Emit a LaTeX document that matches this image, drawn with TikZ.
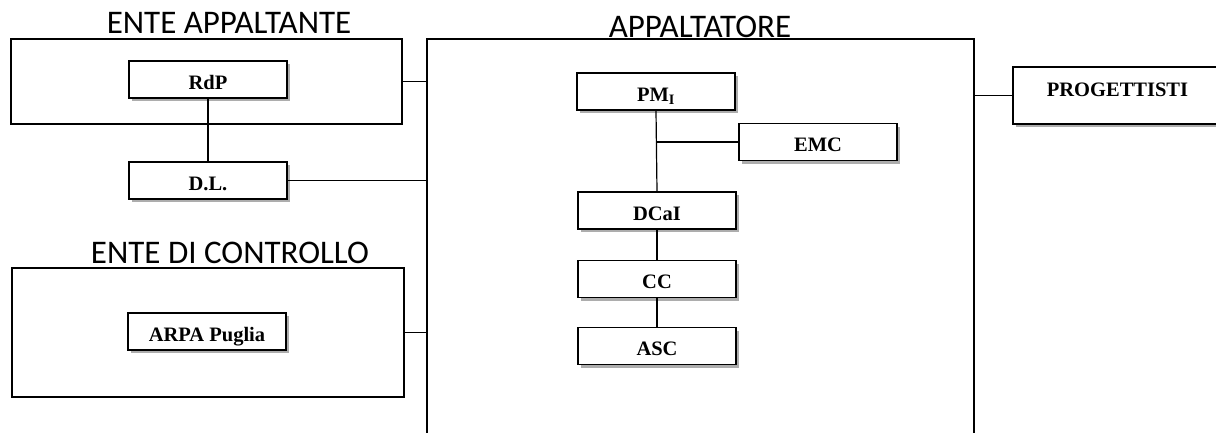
\documentclass[tikz,border=0pt]{standalone}
\usepackage{fontspec}
\setmainfont{Liberation Serif}
\newfontfamily\titolofont{Carlito}
\usetikzlibrary{shadows}

\begin{document}
\begin{tikzpicture}[x=1pt,y=-1pt]
	\tikzstyle{casella}=[minimum width=158pt, minimum height=37pt, draw, line width=1.3pt, fill=white, drop shadow={shadow xshift=3pt, shadow yshift=-3pt, fill=gray!80, opacity=.8}, font=\fontsize{20.5}{22}\selectfont\bfseries, text height=19pt, text depth=0pt]
	\tikzstyle{riquadro}=[draw, line width=1.2pt]
	\tikzstyle{titolo}=[font=\titolofont\fontsize{33}{35}\selectfont, anchor=base]
	\tikzstyle{linea}=[line width=1.2pt]
	\useasboundingbox (0,0) rectangle (1216,432);
	\clip (0,0) rectangle (1216,432);
	% ente appaltante
	\node[titolo] (tea) at (229,33) {ENTE APPALTANTE};
	\node[riquadro, minimum width=391pt, minimum height=85pt] (ea) at (206.5,81.5) {};
	\node[casella] (rdp) at (208,79.5) {RdP};
	\node[casella] (dl) at (208,180.5) {D.L.};
	% ente di controllo
	\node[titolo] (tec) at (230,263) {ENTE DI CONTROLLO};
	\node[riquadro, minimum width=392pt, minimum height=129pt] (ec) at (208,332.5) {};
	\node[casella] (arpa) at (207,331.5) {ARPA Puglia};
	% appaltatore
	\node[titolo] (tapp) at (700,37) {APPALTATORE};
	\node[riquadro, minimum width=547pt, minimum height=420pt] (app) at (700.5,249) {};
	\node[casella] (pm) at (656,91.5) {PM\textsubscript{I}};
	\node[casella] (emc) at (818,142) {EMC};
	\node[casella] (dcai) at (657,210.5) {DCaI};
	\node[casella] (cc) at (657,279) {CC};
	\node[casella] (asc) at (657,346) {ASC};
	% progettisti
	\node[casella, minimum width=209pt, minimum height=57pt, text depth=18pt] (prog) at (1117.5,95.5) {PROGETTISTI};
	% collegamenti
	\draw[linea] (rdp.south) -- (dl.north);
	\draw[linea] (ea.east) -- (ea.east -| app.west);
	\draw[linea] (dl.east) -- (dl.east -| app.west);
	\draw[linea] (ec.east) -- (ec.east -| app.west);
	\draw[linea] (prog.west) -- (prog.west -| app.east);
	\draw[linea] (pm.south) -- (dcai.north);
	\draw[linea] (pm.south |- emc.west) -- (emc.west);
	\draw[linea] (dcai.south) -- (cc.north);
	\draw[linea] (cc.south) -- (asc.north);
\end{tikzpicture}
\end{document}
